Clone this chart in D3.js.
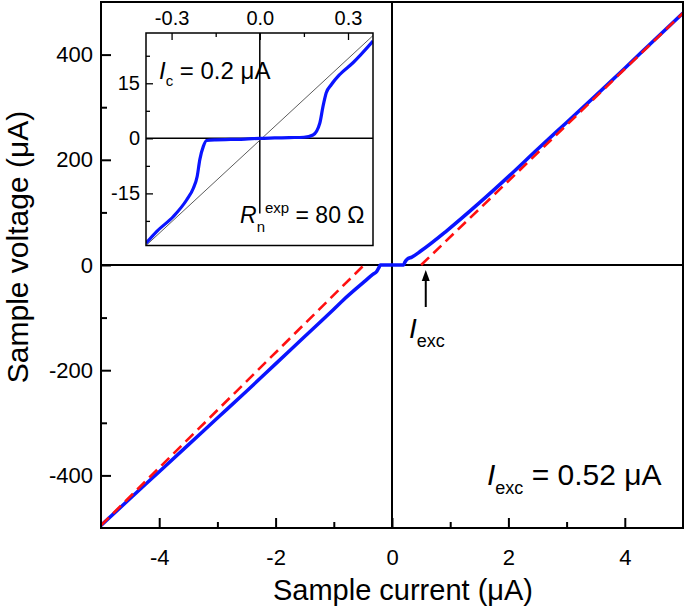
<!DOCTYPE html>
<html>
<head>
<meta charset="utf-8">
<script src="https://cdn.jsdelivr.net/npm/d3@7"></script>
<style>
    body { margin: 0; background: #fff; }
    svg { display: block; font-family: "Liberation Sans", Arial, sans-serif; }
    .axis text { font-family: "Liberation Sans", Arial, sans-serif; fill: #000; }
    .axis line { stroke: #000; }
</style>
</head>
<body>
<script>
// main I-V curve (current in uA, voltage in uV)
var mainCurrent = [-5, -4.5, -4, -3.5, -3, -2.5, -2, -1.5, -1, -0.84, -0.5, -0.33, -0.26, -0.22, -0.2, 0,
    0.2, 0.22, 0.26, 0.34, 0.5, 0.94, 1.5, 2, 2.5, 3, 3.5, 4, 4.5, 5];
var mainVoltage = [-495, -444, -393, -342, -291, -240, -188, -136, -84, -67, -34, -18, -12, -4, 0, 0,
    0, 5, 11, 15, 27, 65, 118, 168, 220, 271, 322, 374, 427, 479];

// normal-state fits (dashed)
var fitPosCurrent = [0.5, 5];
var fitPosVoltage = [0, 479];
var fitNegCurrent = [-5, -0.48];
var fitNegVoltage = [-495, 0];

// inset: low-bias I-V
var insetCurrent = [-0.387, -0.351, -0.294, -0.249, -0.226, -0.213, -0.204, -0.192, -0.181, -0.15, -0.1, -0.05, 0,
    0.05, 0.1, 0.15, 0.181, 0.204, 0.215, 0.226, 0.243, 0.272, 0.317, 0.385];
var insetVoltage = [-28.6, -25.4, -21.3, -16.8, -13.6, -10.4, -5.8, -2.2, -0.6, -0.4, -0.3, -0.2, 0,
    0.1, 0.2, 0.3, 0.9, 4.1, 8.7, 12.4, 14.6, 17.4, 20.6, 26.5];
var insetRefCurrent = [-0.387, 0.385];
var insetRefVoltage = [-29.2, 28.0];

var xTicks = [-4, -2, 0, 2, 4];
var xMinor = [-3, -1, 1, 3];
var yTicks = [-400, -200, 0, 200, 400];
var yMinor = [-300, -100, 100, 300];
var insetXTicks = [-0.3, 0, 0.3];
var insetXMinor = [-0.15, 0.15];
var insetYTicks = [-15, 0, 15];
var insetYMinor = [-22.5, -7.5, 7.5, 22.5];

var excessArrowCurrent = 0.58;

var width = 685,
    height = 609;

var plot = { left: 101, right: 683, top: 2, bottom: 528 };
var inset = { left: 146, right: 373, top: 33, bottom: 245.5 };

var svg = d3.select("body").append("svg")
    .attr("width", width)
    .attr("height", height);

var x = d3.scaleLinear().domain([-5, 5]).range([plot.left, plot.right]);
var y = d3.scaleLinear().domain([-500, 500]).range([plot.bottom, plot.top]);

var xi = d3.scaleLinear().domain([-0.387, 0.385]).range([inset.left, inset.right]);
var yi = d3.scaleLinear().domain([-29.2, 28.7]).range([inset.bottom, inset.top]);

function zip(a, b) {
    return a.map(function(d, i) {
        return [d, b[i]];
    });
}

var defs = svg.append("defs");
defs.append("clipPath").attr("id", "mainClip")
    .append("rect")
    .attr("x", plot.left).attr("y", plot.top)
    .attr("width", plot.right - plot.left).attr("height", plot.bottom - plot.top);
defs.append("clipPath").attr("id", "insetClip")
    .append("rect")
    .attr("x", inset.left).attr("y", inset.top)
    .attr("width", inset.right - inset.left).attr("height", inset.bottom - inset.top);

// zero lines
svg.append("line")
    .attr("x1", plot.left).attr("x2", plot.right)
    .attr("y1", y(0)).attr("y2", y(0))
    .style("stroke", "#000").style("stroke-width", 2);
svg.append("line")
    .attr("x1", x(0)).attr("x2", x(0))
    .attr("y1", plot.top).attr("y2", plot.bottom)
    .style("stroke", "#000").style("stroke-width", 2);

// axes (ticks pointing inward)
function axisStyle(g, size) {
    g.attr("class", "axis");
    g.select(".domain").remove();
    g.selectAll("line").style("stroke-width", 2);
    g.selectAll("text").style("font-size", size + "px");
}

svg.append("g")
    .attr("transform", "translate(0," + plot.bottom + ")")
    .call(d3.axisBottom(x).tickValues(xTicks).tickSize(-10).tickPadding(21)
        .tickFormat(function(d) { return String(d); }))
    .call(axisStyle, 22);
svg.append("g")
    .attr("transform", "translate(0," + plot.bottom + ")")
    .call(d3.axisBottom(x).tickValues(xMinor).tickSize(-6).tickFormat(""))
    .call(axisStyle, 22);
svg.append("g")
    .attr("transform", "translate(" + plot.left + ",0)")
    .call(d3.axisLeft(y).tickValues(yTicks).tickSize(-10).tickPadding(8)
        .tickFormat(function(d) { return String(d); }))
    .call(axisStyle, 22);
svg.append("g")
    .attr("transform", "translate(" + plot.left + ",0)")
    .call(d3.axisLeft(y).tickValues(yMinor).tickSize(-6).tickFormat(""))
    .call(axisStyle, 22);

var line = d3.line()
    .x(function(d) { return x(d[0]); })
    .y(function(d) { return y(d[1]); });

var curves = svg.append("g").attr("clip-path", "url(#mainClip)");

curves.append("path")
    .datum(zip(mainCurrent, mainVoltage))
    .attr("d", line.curve(d3.curveMonotoneX))
    .style("fill", "none")
    .style("stroke", "#0a14ff")
    .style("stroke-width", 3.5);

line.curve(d3.curveLinear);
[zip(fitNegCurrent, fitNegVoltage), zip(fitPosCurrent, fitPosVoltage)].forEach(function(pts) {
    curves.append("path")
        .datum(pts)
        .attr("d", line)
        .style("fill", "none")
        .style("stroke", "#ff1010")
        .style("stroke-width", 2.6)
        .style("stroke-dasharray", "11,6");
});

// frame
svg.append("rect")
    .attr("x", plot.left).attr("y", plot.top)
    .attr("width", plot.right - plot.left).attr("height", plot.bottom - plot.top)
    .style("fill", "none").style("stroke", "#000").style("stroke-width", 2);

// axis titles
svg.append("text")
    .attr("x", 403)
    .attr("y", 600)
    .attr("text-anchor", "middle")
    .style("font-size", "29px")
    .text("Sample current (\u03bcA)");
svg.append("text")
    .attr("transform", "translate(28," + 247 + ") rotate(-90)")
    .attr("text-anchor", "middle")
    .style("font-size", "30px")
    .text("Sample voltage (\u03bcA)");

// excess current marker
svg.append("line")
    .attr("x1", x(excessArrowCurrent)).attr("x2", x(excessArrowCurrent))
    .attr("y1", 307).attr("y2", 279)
    .style("stroke", "#000").style("stroke-width", 2);
svg.append("path")
    .attr("d", "M" + x(excessArrowCurrent) + ",270 l-4,11 l8,0 z")
    .style("fill", "#000");

function subText(xPos, yBase, main, sub, mainSize, subSize, rest) {
    var t = svg.append("text")
        .attr("x", xPos).attr("y", yBase)
        .style("font-size", mainSize + "px");
    t.append("tspan").style("font-style", "italic").text(main);
    t.append("tspan").attr("dy", subSize * 0.5).style("font-size", subSize + "px").text(sub);
    if (rest) {
        t.append("tspan").attr("dy", -subSize * 0.5).text(rest);
    }
    return t;
}

subText(409, 338, "I", "exc", 28, 18);
subText(487, 485, "I", "exc", 30, 18, " = 0.52 \u03bcA");

// inset
var ins = svg.append("g");
ins.append("rect")
    .attr("x", inset.left).attr("y", inset.top)
    .attr("width", inset.right - inset.left).attr("height", inset.bottom - inset.top)
    .style("fill", "#fff");

ins.append("line")
    .attr("x1", inset.left).attr("x2", inset.right)
    .attr("y1", yi(0)).attr("y2", yi(0))
    .style("stroke", "#000").style("stroke-width", 1.5);
ins.append("line")
    .attr("x1", xi(0)).attr("x2", xi(0))
    .attr("y1", inset.top).attr("y2", yi(-20.5))
    .style("stroke", "#000").style("stroke-width", 1.5);

function insetAxisStyle(g) {
    g.attr("class", "axis");
    g.select(".domain").remove();
    g.selectAll("line").style("stroke-width", 1.3);
    g.selectAll("text").style("font-size", "20px");
}

ins.append("g")
    .attr("transform", "translate(0," + inset.top + ")")
    .call(d3.axisTop(xi).tickValues(insetXTicks).tickSize(-7).tickPadding(8)
        .tickFormat(function(d) { return d.toFixed(1); }))
    .call(insetAxisStyle);
ins.append("g")
    .attr("transform", "translate(0," + inset.top + ")")
    .call(d3.axisTop(xi).tickValues(insetXMinor).tickSize(-4).tickFormat(""))
    .call(insetAxisStyle);
ins.append("g")
    .attr("transform", "translate(" + inset.left + ",0)")
    .call(d3.axisLeft(yi).tickValues(insetYTicks).tickSize(-7).tickPadding(6)
        .tickFormat(function(d) { return String(d); }))
    .call(insetAxisStyle);
ins.append("g")
    .attr("transform", "translate(" + inset.left + ",0)")
    .call(d3.axisLeft(yi).tickValues(insetYMinor).tickSize(-4).tickFormat(""))
    .call(insetAxisStyle);

var insetLine = d3.line()
    .x(function(d) { return xi(d[0]); })
    .y(function(d) { return yi(d[1]); });

var insetCurves = ins.append("g").attr("clip-path", "url(#insetClip)");
insetCurves.append("path")
    .datum(zip(insetRefCurrent, insetRefVoltage))
    .attr("d", insetLine)
    .style("fill", "none")
    .style("stroke", "#333")
    .style("stroke-width", 0.8);
insetCurves.append("path")
    .datum(zip(insetCurrent, insetVoltage))
    .attr("d", insetLine.curve(d3.curveMonotoneX))
    .style("fill", "none")
    .style("stroke", "#0a14ff")
    .style("stroke-width", 3.2);

ins.append("rect")
    .attr("x", inset.left).attr("y", inset.top)
    .attr("width", inset.right - inset.left).attr("height", inset.bottom - inset.top)
    .style("fill", "none").style("stroke", "#000").style("stroke-width", 1.5);

// inset labels
var ic = ins.append("text").attr("x", 159).attr("y", 79).style("font-size", "24px");
ic.append("tspan").style("font-style", "italic").text("I");
ic.append("tspan").attr("dy", 7).style("font-size", "15px").text("c");
ic.append("tspan").attr("dy", -7).text(" = 0.2 \u03bcA");

var rn = ins.append("text").attr("x", 240).attr("y", 223).style("font-size", "23px");
rn.append("tspan").style("font-style", "italic").text("R");
rn.append("tspan").attr("dy", 9).style("font-size", "15px").text("n");
rn.append("tspan").attr("dy", -19).style("font-size", "15px").text("exp");
rn.append("tspan").attr("dy", 10).text(" = 80 \u03a9");
</script>
</body>
</html>
